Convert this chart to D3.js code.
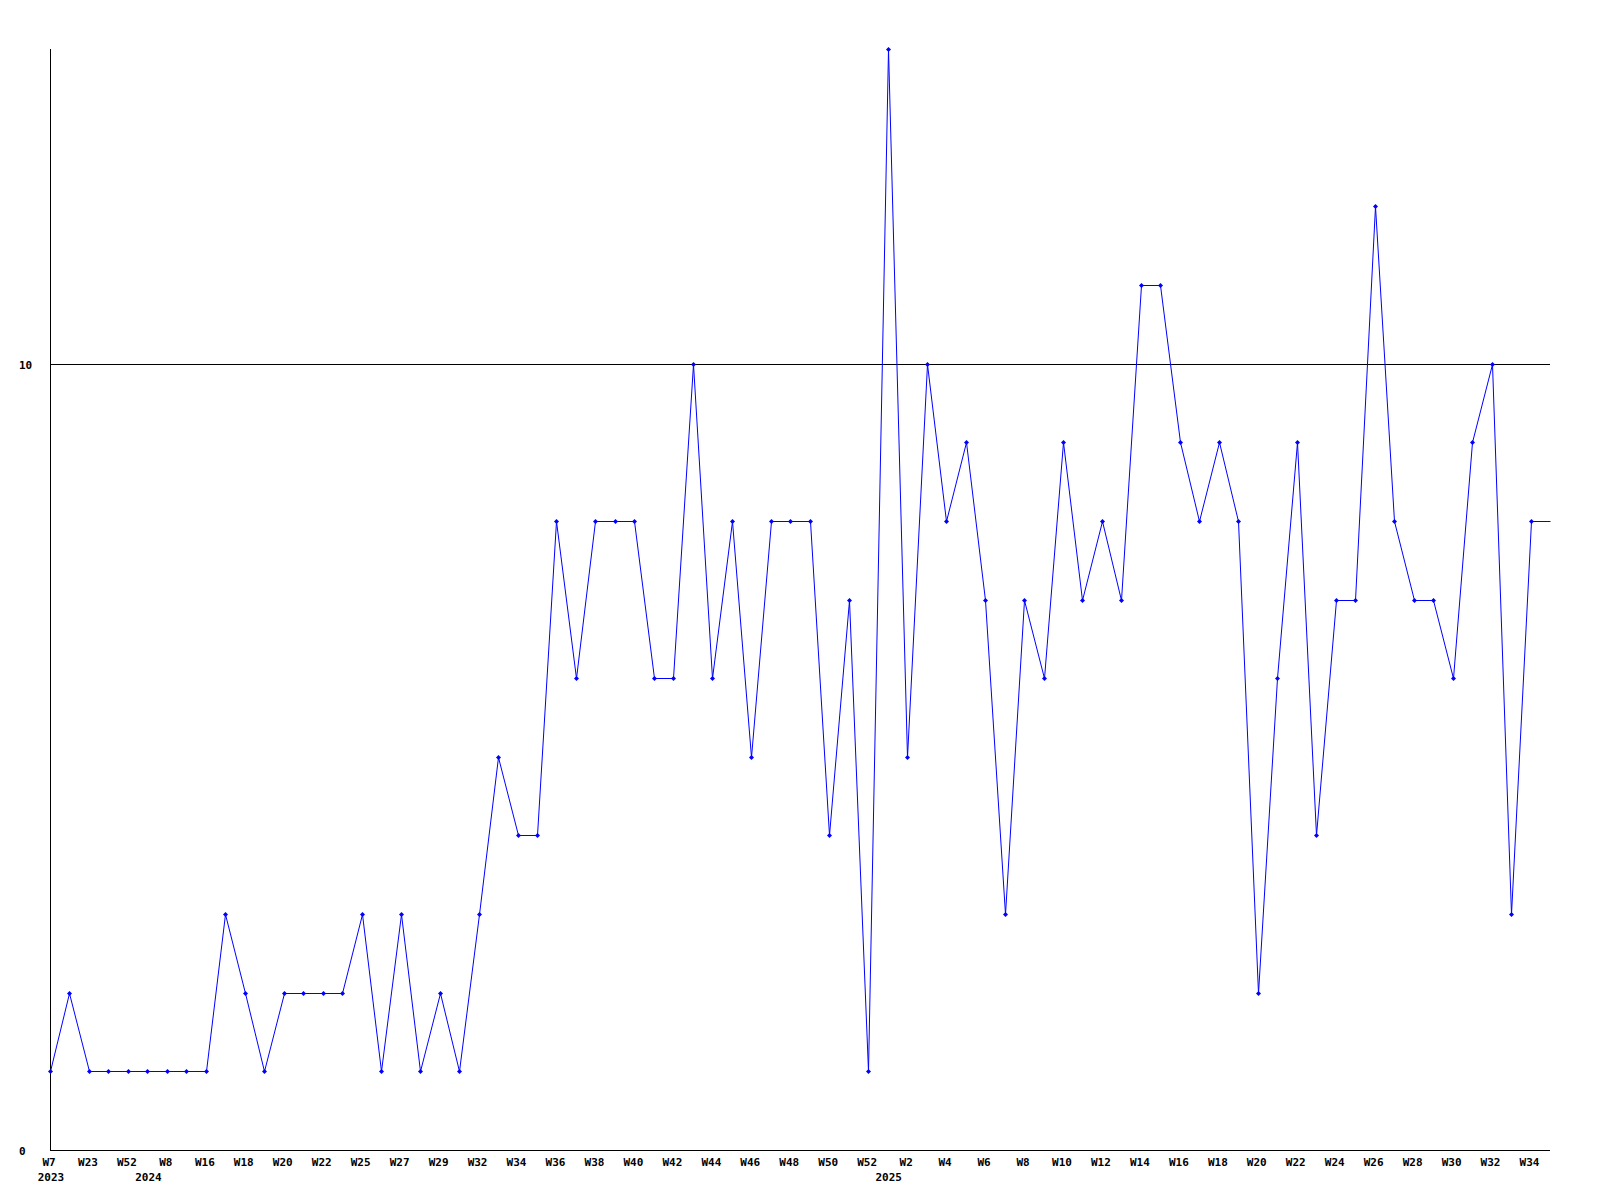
<!DOCTYPE html>
<html><head><meta charset="utf-8">
<script src="https://cdn.jsdelivr.net/npm/d3@7"></script>
<style>body{margin:0;background:#fff}svg{display:block}text{font-family:"DejaVu Sans Mono",monospace;font-weight:bold;font-size:11px;fill:#000}</style>
</head><body><svg id="c" width="1600" height="1200"></svg>
<script>
const weeks = ["W7","W15","W23","W40","W52","W1","W8","W12","W16","W17","W18","W19","W20","W21","W22","W24","W25","W26","W27","W28","W29","W31","W32","W33","W34","W35","W36","W37","W38","W39","W40","W41","W42","W43","W44","W45","W46","W47","W48","W49","W50","W51","W52","W1","W2","W3","W4","W5","W6","W7","W8","W9","W10","W11","W12","W13","W14","W15","W16","W17","W18","W19","W20","W21","W22","W23","W24","W25","W26","W27","W28","W29","W30","W31","W32","W33","W34"];
const years = [{i:0,label:"2023"},{i:5,label:"2024"},{i:43,label:"2025"}];
const values = [1,2,1,1,1,1,1,1,1,3,2,1,2,2,2,2,3,1,3,1,2,1,3,5,4,4,8,6,8,8,8,6,6,10,6,8,5,8,8,8,4,7,1,14,5,10,8,9,7,3,7,6,9,7,8,7,11,11,9,8,9,8,2,6,9,4,7,7,12,8,7,7,6,9,10,3,8];
const yTicks = [0,10];

const svg = d3.select("#c");
const x = d3.scaleLinear().domain([0, values.length]).range([50, 1550]);
const y = d3.scaleLinear().domain([0, 14]).range([1150, 49]);
const cy = v => Math.round(y(v)) + 0.5;

// grid line at 10
svg.append("line").attr("x1",x(0)).attr("x2",x(values.length)).attr("y1",cy(10)).attr("y2",cy(10)).attr("stroke","#000");
// axes
svg.append("line").attr("x1",x(0)+0.5).attr("x2",x(0)+0.5).attr("y1",y(14)).attr("y2",cy(0)).attr("stroke","#000");
svg.append("line").attr("x1",x(0)).attr("x2",x(values.length)).attr("y1",cy(0)).attr("y2",cy(0)).attr("stroke","#000");

svg.selectAll("text.yt").data(yTicks).enter().append("text").attr("class","yt")
  .attr("x",19).attr("y",d=>cy(d)+4).text(d=>d);

svg.selectAll("text.xt").data(weeks.map((w,i)=>({w,i})).filter(d=>d.i%2===0)).enter().append("text")
  .attr("x",d=>x(d.i)-1).attr("y",1166).attr("text-anchor","middle").text(d=>d.w);
svg.selectAll("text.yr").data(years).enter().append("text")
  .attr("x",d=>x(d.i)+1).attr("y",1181).attr("text-anchor","middle").text(d=>d.label);

const pts = values.map((v,i)=>[i,v]);
pts.push([values.length, values[values.length-1]]);
const line = d3.line().x(d=>Math.round(x(d[0]))+0.5).y(d=>cy(d[1]));
svg.append("path").attr("d",line(pts)).attr("fill","none").attr("stroke","#0000ff").attr("stroke-width",1);

svg.selectAll("path.m").data(values).enter().append("path").attr("class","m")
  .attr("transform",(d,i)=>`translate(${Math.round(x(i))+0.5},${cy(d)})`)
  .attr("d","M0,-2.5L2.5,0L0,2.5L-2.5,0Z").attr("fill","#0000ff");
</script></body></html>
